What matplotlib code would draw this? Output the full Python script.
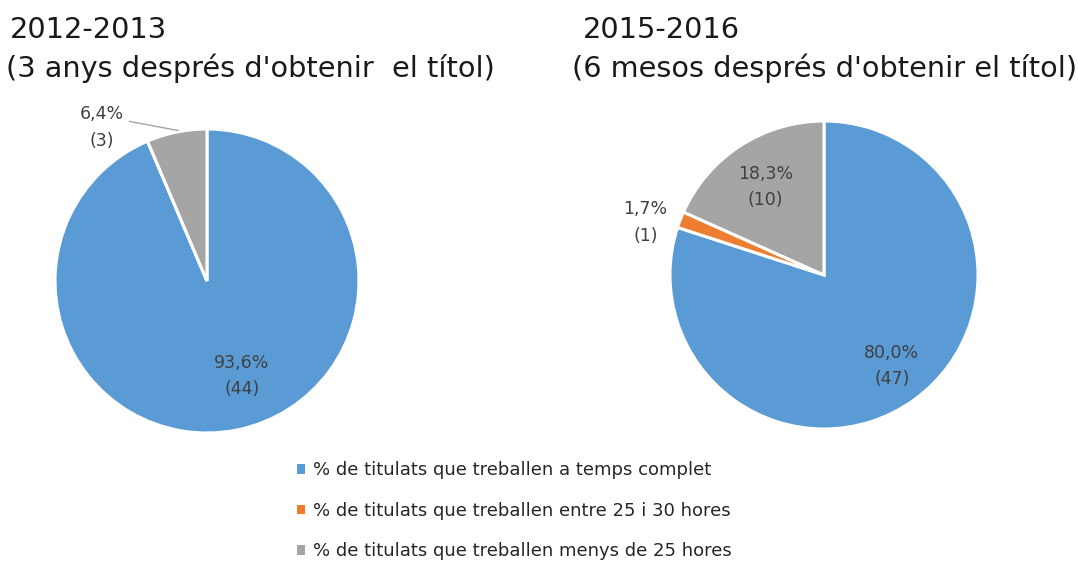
import matplotlib
matplotlib.use("Agg")
from matplotlib import pyplot as plt
from matplotlib.patches import Patch

# data
categories = ["% de titulats que treballen a temps complet",
              "% de titulats que treballen entre 25 i 30 hores",
              "% de titulats que treballen menys de 25 hores"]
colors = ["#5B9BD5", "#ED7D31", "#A5A5A5"]

pct_2012 = [93.6, 0.0, 6.4]
n_2012 = [44, 0, 3]
pct_2016 = [80.0, 1.7, 18.3]
n_2016 = [47, 1, 10]

years = ["2012-2013", "2015-2016"]
subtitles = ["(3 anys després d'obtenir  el títol)",
             "(6 mesos després d'obtenir el títol)"]

W, H = 1078, 563
fig = plt.figure(figsize=(W / 100, H / 100), dpi=100)
plt.rcParams['font.family'] = ['DejaVu Sans']

LBL = dict(ha="center", va="center", fontsize=12.5, color="#404040", linespacing=1.6)


def pie_axes(cx, cy, r):
    # position in pixel units (top-left origin) -> figure fraction
    return fig.add_axes([(cx - r) / W, (H - cy - r) / H, 2 * r / W, 2 * r / H])


def label(p, n):
    return "{:.1f}%\n({})".format(p, n).replace(".", ",")


# left pie
ax1 = pie_axes(207, 281, 152)
ax1.pie(pct_2012, colors=colors, startangle=90, counterclock=False,
        wedgeprops=dict(edgecolor="white", linewidth=2.2))
ax1.set_xlim(-1, 1)
ax1.set_ylim(-1, 1)
ax1.text(0.23, -0.625, label(pct_2012[0], n_2012[0]), **LBL)
ax1.text(-0.69, 1.01, label(pct_2012[2], n_2012[2]), **LBL)
ax1.plot([-0.51, -0.19], [1.05, 0.99], color="#A5A5A5", lw=1, clip_on=False)

# right pie
ax2 = pie_axes(824, 275, 154)
ax2.pie(pct_2016, colors=colors, startangle=90, counterclock=False,
        wedgeprops=dict(edgecolor="white", linewidth=2.2))
ax2.set_xlim(-1, 1)
ax2.set_ylim(-1, 1)
ax2.text(0.44, -0.59, label(pct_2016[0], n_2016[0]), **LBL)
ax2.text(-1.16, 0.34, label(pct_2016[1], n_2016[1]), **LBL)
ax2.text(-0.38, 0.57, label(pct_2016[2], n_2016[2]), **LBL)

# titles
fig.text(10 / W, 1 - 30 / H, years[0], fontsize=20.8, color="#1a1a1a", va="center")
fig.text(6 / W, 1 - 68 / H, subtitles[0], fontsize=20.7, color="#1a1a1a", va="center")
fig.text(583 / W, 1 - 30 / H, years[1], fontsize=20.8, color="#1a1a1a", va="center")
fig.text(572 / W, 1 - 68 / H, subtitles[1], fontsize=20.7, color="#1a1a1a", va="center")

# legend
handles = [Patch(facecolor=c, edgecolor="none") for c in colors]
fig.legend(handles, categories, loc="upper left", bbox_to_anchor=(281 / W, 1 - 445 / H),
           frameon=False, fontsize=13, labelspacing=1.25, handlelength=0.45,
           handleheight=0.45, handletextpad=0.4, labelcolor="#262626")

fig.savefig("out.png", dpi=100)
